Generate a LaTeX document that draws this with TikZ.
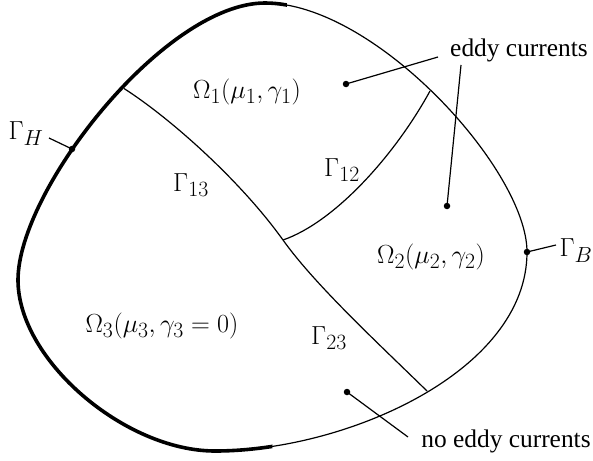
\documentclass[tikz,border=0pt]{standalone}
\usepackage{graphicx}
\usepackage{fontspec}
\newfontfamily\tnr{Liberation Serif}
\newcommand{\mlab}[1]{\scalebox{1.05}{$#1$}}
\begin{document}
\begin{tikzpicture}[x=1pt,y=-1pt, line join=round,
  bnd/.style={line width=1.2pt},
  hbnd/.style={line width=3.6pt},
  lbl/.style={inner sep=0pt, font=\fontsize{24.88}{30}\selectfont},
  txt/.style={inner sep=0pt, font=\tnr\fontsize{25.4}{30}\selectfont},
  lead/.style={line width=1.2pt},
  dotm/.style={circle, fill, inner sep=0pt, minimum size=6.5pt}]
\useasboundingbox (0,0) rectangle (593,460);
% outer boundary (thin)
\draw[bnd] (265,3) .. controls (375,3) and (527,170) .. (527,252)
  .. controls (527,372) and (345,451) .. (215,451)
  .. controls (125,451) and (18,360) .. (18,280)
  .. controls (18,190) and (165,3) .. (265,3) -- cycle;
% thick part Gamma_H
\begin{scope}
\clip (287,-10) -- (287,3) -- (272,460) -- (272,470) -- (-10,470) -- (-10,-10) -- cycle;
\draw[hbnd] (265,3) .. controls (375,3) and (527,170) .. (527,252)
  .. controls (527,372) and (345,451) .. (215,451)
  .. controls (125,451) and (18,360) .. (18,280)
  .. controls (18,190) and (165,3) .. (265,3) -- cycle;
\end{scope}
% junctions
\coordinate (j13) at (124,88.5);
\coordinate (jc) at (283,240);
\coordinate (j12) at (430,91);
\coordinate (j23) at (427,391);
% interfaces
\draw[bnd] (j13) .. controls (170,118) and (240,180) .. (jc)
  .. controls (315,285) and (380,345) .. (j23);
\draw[bnd] (jc) .. controls (335,222) and (395,155) .. (j12);
% labels
\node[lbl] (om1) at (247,92) {\mlab{\Omega_1(\mu_1,\gamma_1)}};
\node[lbl] (om2) at (431,257) {\mlab{\Omega_2(\mu_2,\gamma_2)}};
\node[lbl] (om3) at (162,326) {\mlab{\Omega_3(\mu_3,\gamma_3=0)}};
\node[lbl] (g13) at (191,185) {\mlab{\Gamma_{13}}};
\node[lbl] (g12) at (342,170) {\mlab{\Gamma_{12}}};
\node[lbl] (g23) at (329,338) {\mlab{\Gamma_{23}}};
\node[lbl] (gh) at (26,134) {\mlab{\Gamma_H}};
\node[lbl] (gb) at (576,251) {\mlab{\Gamma_B}};
\node[txt] (eddy) at (519,50) {eddy currents};
\node[txt] (noeddy) at (506,441) {no eddy currents};
% markers and leaders
\node[dotm] (dh) at (72,149) {};
\node[dotm] (db) at (527,252) {};
\node[dotm] (d1) at (346,84) {};
\node[dotm] (d2) at (447,206) {};
\node[dotm] (d3) at (347,392) {};
\coordinate (eh) at (49,138);
\coordinate (eb) at (556,245);
\coordinate (e1) at (438,57);
\coordinate (e2) at (461,65);
\coordinate (e3) at (408,437);
\draw[lead] (dh.center) -- (eh);
\draw[lead] (db.center) -- (eb);
\draw[lead] (d1.center) -- (e1);
\draw[lead] (d2.center) -- (e2);
\draw[lead] (d3.center) -- (e3);
\end{tikzpicture}
\end{document}
